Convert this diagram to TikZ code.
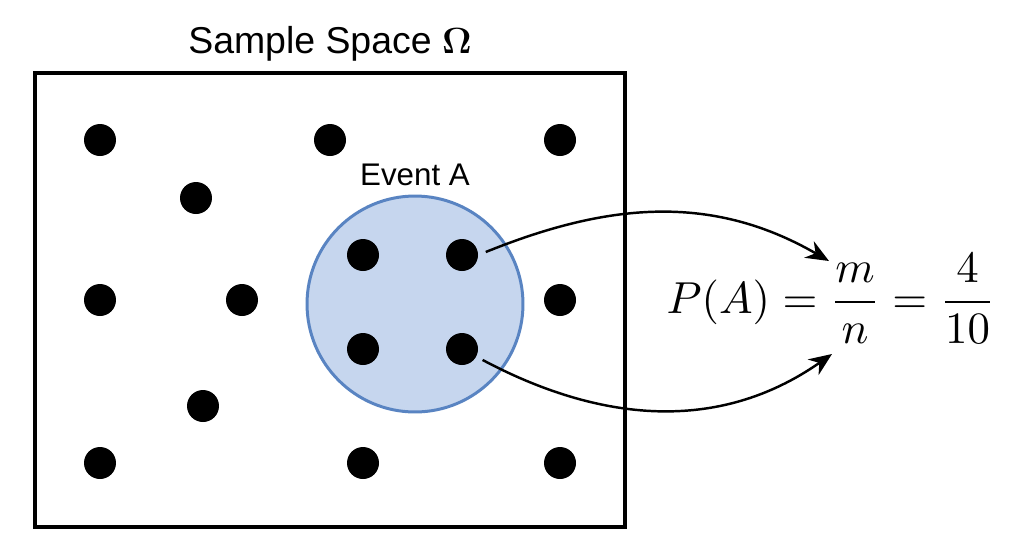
\documentclass[tikz,border=0pt]{standalone}
\usepackage{amsmath}
\usepackage{amssymb}
\usepackage[no-math]{fontspec}
\newfontfamily\labelfont{Liberation Sans}
\usepackage{tikz}
\usetikzlibrary{arrows.meta,positioning}
\definecolor{eventfill}{RGB}{198,214,238}
\definecolor{eventline}{RGB}{89,132,194}

\begin{document}
\begin{tikzpicture}[x=0.02cm,y=-0.02cm,>={Stealth[length=0.46cm,width=0.38cm]},
    outcome/.style={circle,fill=black,inner sep=0pt,minimum size=0.64cm},
    event/.style={circle,draw=eventline,fill=eventfill,line width=1.7pt,minimum size=4.32cm},
    link/.style={->,line width=1.4pt}]
    \useasboundingbox (0,0) rectangle (1024,559);

    \node[draw,line width=1.9pt,minimum width=11.8cm,minimum height=9.08cm] (omega) at (330,300) {};
    \node[above=0.08cm of omega,font=\labelfont\fontsize{21.3}{25}\selectfont] (title) {Sample Space $\mathbf{\Omega}$};

    \node[event] (A) at (415,304) {};
    \node[above=0.05cm of A,font=\labelfont\fontsize{17.8}{21}\selectfont] (Alabel) {Event A};

    \node[outcome] (o1) at (100,140) {};
    \node[outcome] (o2) at (330,140) {};
    \node[outcome] (o3) at (560,140) {};
    \node[outcome] (o4) at (196,198) {};
    \node[outcome] (o5) at (100,300) {};
    \node[outcome] (o6) at (242,300) {};
    \node[outcome] (o7) at (560,300) {};
    \node[outcome] (o8) at (203,406) {};
    \node[outcome] (o9) at (100,463) {};
    \node[outcome] (o10) at (363,463) {};
    \node[outcome] (o11) at (560,463) {};

    \node[outcome] (a1) at (363,255) {};
    \node[outcome] (a2) at (462,255) {};
    \node[outcome] (a3) at (363,349) {};
    \node[outcome] (a4) at (462,349) {};

    \node[anchor=base] (prob) at (831,313) {\scalebox{2.55}{$P(A)=\dfrac{m}{n}=\dfrac{4}{10}$}};
    \coordinate (mtop) at (829,261);
    \coordinate (nbot) at (832,354);

    \path[link]
    (a2.east) edge [out=22,in=150,shorten <=0.16cm] (mtop)
    (a4) edge [out=-28,in=-145,shorten <=0.14cm] (nbot)
    ;
\end{tikzpicture}
\end{document}
